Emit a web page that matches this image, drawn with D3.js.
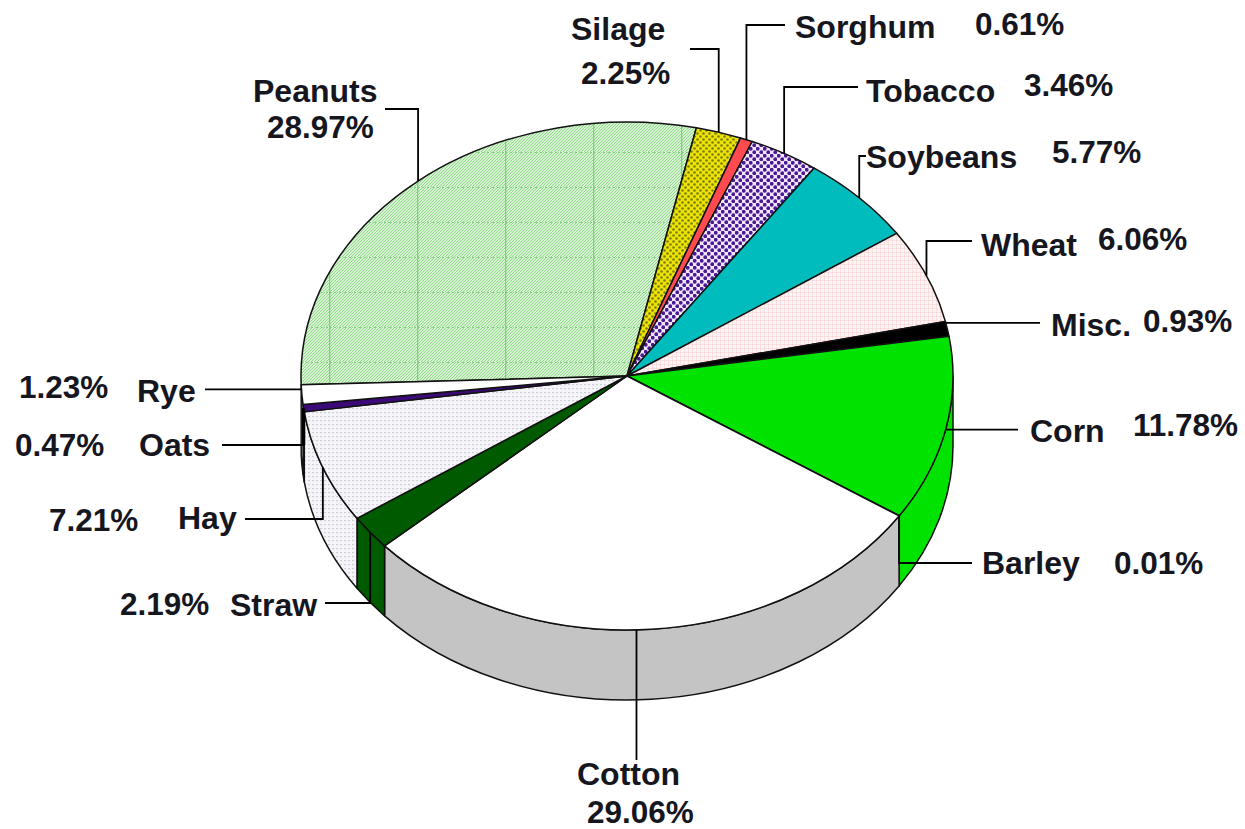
<!DOCTYPE html>
<html>
<head>
<meta charset="utf-8">
<script src="https://cdn.jsdelivr.net/npm/d3@7"></script>
<style>
  html, body { margin: 0; padding: 0; background: #fff; }
  svg { display: block; }
  .label { font-family: "Liberation Sans", Arial, sans-serif; font-weight: 700; fill: #16161e; }
  .name { font-size: 32px; }
  .share { font-size: 31.5px; }
  .rim { stroke: #111; stroke-width: 1.5; stroke-linejoin: round; }
  .leader { fill: none; stroke: #000; stroke-width: 1.8; }
</style>
</head>
<body>
<div id="viz"></div>
<script>
// clockwise from the edge between Rye and Peanuts
const cropNames  = ["Peanuts", "Silage", "Sorghum", "Tobacco", "Soybeans", "Wheat", "Misc.", "Corn", "Barley", "Cotton", "Straw", "Hay", "Oats", "Rye"];
const cropShares = [28.97, 2.25, 0.61, 3.46, 5.77, 6.06, 0.93, 11.78, 0.01, 29.06, 2.19, 7.21, 0.47, 1.23];

const cropFills  = ["url(#peanutsFill)", "url(#silageFill)", "#ff4b50", "url(#tobaccoFill)", "#00bcbc", "url(#wheatFill)", "#000000", "#00e200", "#000000", "#ffffff", "#005a00", "url(#hayFill)", "#3c0a78", "#ffffff"];

// name x/baseline, share x/baseline, leader: vertical leg ends at legY, then runs to endX
const labelLayout = [
  { nx: 253, ny: 102, px: 267, py: 138, legY: 109, endX: 385 },
  { nx: 571, ny: 40,  px: 581, py: 84,  legY: 49,  endX: 690 },
  { nx: 795, ny: 38,  px: 975, py: 35,  legY: 25,  endX: 785 },
  { nx: 866, ny: 102, px: 1024, py: 96, legY: 87,  endX: 858 },
  { nx: 866, ny: 168, px: 1052, py: 163, legY: 156, endX: 866 },
  { nx: 981, ny: 256, px: 1098, py: 250, legY: 241, endX: 972 },
  { nx: 1051, ny: 336, px: 1143, py: 332, legY: null, endX: 1040, nudge: -1.4 },
  { nx: 1030, ny: 442, px: 1133, py: 436, legY: null, endX: 1018 },
  { nx: 982, ny: 574, px: 1114, py: 574, legY: 563, endX: 972 },
  { nx: 577, ny: 785, px: 587, py: 823, legY: 760, endX: null, nudge: 2.6 },
  { nx: 230, ny: 616, px: 120, py: 615, legY: 603, endX: 325 },
  { nx: 178, ny: 529, px: 49,  py: 531, legY: 519, endX: 245 },
  { nx: 139, ny: 456, px: 15,  py: 456, legY: 445, endX: 222, heavyLeg: true },
  { nx: 137, ny: 402, px: 19,  py: 398, legY: null, endX: 205, nudge: 1.2 }
];

const CONST = { canvas: { width: 1245, height: 829 },
                pie: { cx: 627, cy: 376, rx: 326, ry: 254, depth: 70, startDeg: -92 } };

const svg = d3.select("#viz").append("svg")
    .attr("width", CONST.canvas.width)
    .attr("height", CONST.canvas.height);

const defs = svg.append("defs");

function makePattern(id, w, h, bg, attrs) {
  const p = defs.append("pattern").attr("id", id)
      .attr("patternUnits", "userSpaceOnUse")
      .attr("width", w).attr("height", h);
  if (attrs) p.attr("patternTransform", attrs);
  p.append("rect").attr("width", w).attr("height", h).attr("fill", bg);
  return p;
}

// Peanuts: fine diagonal hatch with a coarse grid on top
makePattern("peanutsHatch", 3, 3, "#d6f2d2")
  .append("path").attr("d", "M-1,1 L1,-1 M0,3 L3,0 M2,4 L4,2").attr("stroke", "#92d98c").attr("stroke-width", 1);
const pg = makePattern("peanutsFill", 88, 35, "url(#peanutsHatch)", "translate(65,12)");
pg.append("line").attr("x1", 0).attr("x2", 88).attr("y1", 0).attr("y2", 0)
  .attr("stroke", "#6fc46c").attr("stroke-width", 1.5).attr("stroke-dasharray", "2 3");
pg.append("line").attr("x1", 0).attr("x2", 0).attr("y1", 0).attr("y2", 35)
  .attr("stroke", "#6ddc68").attr("stroke-width", 2.5);

const sf = makePattern("silageFill", 6, 6, "#ece400");
sf.append("circle").attr("cx", 1.5).attr("cy", 1.5).attr("r", 1.3).attr("fill", "#7c7c14");
sf.append("circle").attr("cx", 4.5).attr("cy", 4.5).attr("r", 1.3).attr("fill", "#7c7c14");

const tf = makePattern("tobaccoFill", 7, 7, "#f1e6fa");
tf.append("circle").attr("cx", 1.75).attr("cy", 1.75).attr("r", 1.9).attr("fill", "#4a1a96");
tf.append("circle").attr("cx", 5.25).attr("cy", 5.25).attr("r", 1.9).attr("fill", "#4a1a96");

makePattern("wheatFill", 4, 4, "#fdf4f4")
  .append("path").attr("d", "M0,0 H4 M0,0 V4").attr("stroke", "#f7cdcd").attr("stroke-width", 1);

const hf = makePattern("hayFill", 4, 4, "#f5f5f9");
hf.append("rect").attr("width", 2).attr("height", 1.2).attr("fill", "#cfcfd8");

// ----- pie geometry: circle angles squashed onto the tilted ellipse
const P = CONST.pie;
const xScale = d3.scaleLinear().domain([-1, 1]).range([P.cx - P.rx, P.cx + P.rx]);
const yScale = d3.scaleLinear().domain([-1, 1]).range([P.cy - P.ry, P.cy + P.ry]);

function rimPoint(a) {
  const [ux, uy] = d3.pointRadial(a, 1);
  return [xScale(ux), yScale(uy)];
}

const rad = d => d * Math.PI / 180;
const start = rad(P.startDeg);

const slices = d3.pie().sort(null).value(d => d)
    .startAngle(start).endAngle(start + 2 * Math.PI)(cropShares);

function topPath(s) {
  const p0 = rimPoint(s.startAngle), p1 = rimPoint(s.endAngle);
  const big = (s.endAngle - s.startAngle) > Math.PI ? 1 : 0;
  return `M${P.cx},${P.cy} L${p0} A${P.rx},${P.ry} 0 ${big} 1 ${p1} Z`;
}

// only the part of the rim facing the viewer (90deg to 270deg) gets a side wall
function wallPath(s) {
  const a0 = Math.max(s.startAngle, rad(90)), a1 = Math.min(s.endAngle, rad(270));
  if (a1 <= a0) return null;
  const p0 = rimPoint(a0), p1 = rimPoint(a1);
  return `M${p0} A${P.rx},${P.ry} 0 0 1 ${p1} L${p1[0]},${p1[1] + P.depth} A${P.rx},${P.ry} 0 0 0 ${p0[0]},${p0[1] + P.depth} Z`;
}

const walls = slices.map((s, i) => ({ d: wallPath(s), fill: i === 9 ? "#c4c4c4" : cropFills[i] })).filter(w => w.d);

svg.append("g").selectAll("path").data(walls).join("path")
    .attr("class", "rim")
    .attr("d", w => w.d)
    .attr("fill", w => w.fill);

svg.append("g").selectAll("path").data(slices).join("path")
    .attr("class", "rim")
    .attr("d", topPath)
    .attr("fill", (s, i) => cropFills[i]);

// ----- leaders start on the rim at each slice's middle
function leaderStart(s, i) {
  return rimPoint((s.startAngle + s.endAngle) / 2 + rad(labelLayout[i].nudge || 0));
}

const leaderLine = d3.line();
svg.append("g").selectAll("path").data(slices).join("path")
    .attr("class", "leader")
    .attr("d", (s, i) => {
      const L = labelLayout[i];
      const p = leaderStart(s, i);
      const pts = [p];
      if (L.legY !== null) pts.push([p[0], L.legY]);
      if (L.endX !== null) pts.push([L.endX, L.legY !== null ? L.legY : p[1]]);
      return leaderLine(pts);
    });

// the Oats leg runs along the wall and reads as a heavier stroke
slices.forEach((s, i) => {
  if (!labelLayout[i].heavyLeg) return;
  const p = leaderStart(s, i);
  svg.append("path")
      .attr("class", "leader")
      .style("stroke-width", 3.2)
      .attr("d", leaderLine([p, [p[0], labelLayout[i].legY]]));
});

const labels = svg.append("g");
labels.selectAll("text.name").data(cropNames).join("text")
    .attr("class", "label name")
    .attr("x", (d, i) => labelLayout[i].nx)
    .attr("y", (d, i) => labelLayout[i].ny)
    .text(d => d);
labels.selectAll("text.share").data(cropShares).join("text")
    .attr("class", "label share")
    .attr("x", (d, i) => labelLayout[i].px)
    .attr("y", (d, i) => labelLayout[i].py)
    .text(d => d.toFixed(2) + "%");
</script>
</body>
</html>
